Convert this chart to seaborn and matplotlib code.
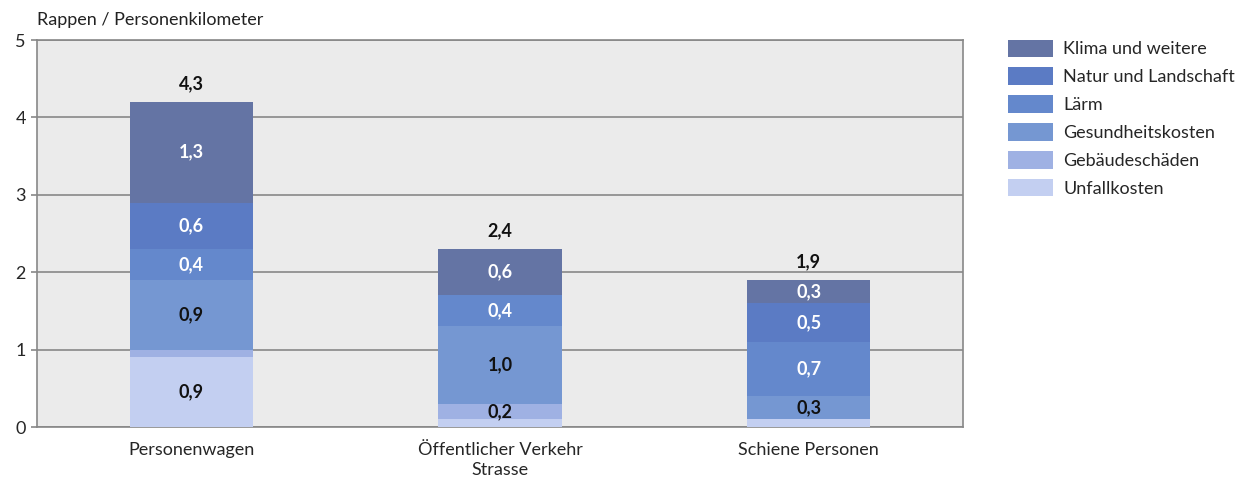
import numpy as np
import pandas as pd
import matplotlib
matplotlib.use("Agg")
import matplotlib.pyplot as plt
import seaborn as sns
from matplotlib.patches import Patch

# data (Rappen / Personenkilometer)
categories = ["Personenwagen", "Öffentlicher Verkehr\nStrasse", "Schiene Personen"]
components = ["Unfallkosten", "Gebäudeschäden", "Gesundheitskosten", "Lärm",
              "Natur und Landschaft", "Klima und weitere"]
unfall = [0.9, 0.1, 0.1]
gebaeude = [0.1, 0.2, 0.0]
gesundheit = [0.9, 1.0, 0.3]
laerm = [0.4, 0.4, 0.7]
natur = [0.6, 0.0, 0.5]
klima = [1.3, 0.6, 0.3]
total_labels = ["4,3", "2,4", "1,9"]

colors = ["#c3cff1", "#9fb1e3", "#7597d2", "#6488cc", "#5b7bc4", "#6474a4"]
text_colors = ["#111111", "#111111", "#111111", "white", "white", "white"]

df = pd.DataFrame({"Kategorie": categories, "Unfallkosten": unfall,
                   "Gebäudeschäden": gebaeude, "Gesundheitskosten": gesundheit,
                   "Lärm": laerm, "Natur und Landschaft": natur,
                   "Klima und weitere": klima})

sns.set_style("white", {"axes.facecolor": "#ebebeb"})
plt.rcParams["font.family"] = ["Lato", "DejaVu Sans"]

fig = plt.figure(figsize=(12.4, 4.82), dpi=100)
ax = fig.add_axes([0.0298, 0.1141, 0.7468, 0.8029])

cum = df[components].cumsum(axis=1)
# draw cumulative bars from top to bottom so lower ones overlay
for comp, col in reversed(list(zip(components, colors))):
    sns.barplot(x=df["Kategorie"], y=cum[comp], color=col, width=0.4,
                saturation=1, ax=ax, zorder=3, linewidth=0)

# segment labels
for i in range(len(categories)):
    base = 0.0
    for comp, tc in zip(components, text_colors):
        v = df.loc[i, comp]
        if v >= 0.2:
            ax.text(i, base + v / 2, f"{v:.1f}".replace(".", ","), ha="center",
                    va="center", color=tc, fontsize=13, fontweight="bold", zorder=5)
        base += v
    ax.text(i, base + 0.13, total_labels[i], ha="center", va="bottom",
            color="#111111", fontsize=13, fontweight="bold", zorder=5)

ax.set_xlim(-0.5, 2.5)
ax.set_ylim(0, 5)
ax.set_yticks(range(0, 6))
ax.yaxis.grid(True, color="#888888", linewidth=1.2, zorder=1)
ax.set_axisbelow(True)
for s in ax.spines.values():
    s.set_color("#888888")
    s.set_linewidth(1.2)
ax.tick_params(axis="y", length=4, width=1.2, color="#888888", labelsize=13,
               pad=4, left=True)
ax.tick_params(axis="x", length=0, labelsize=13, pad=11)
for lab in ax.get_xticklabels():
    lab.set_linespacing(1.25)
ax.set_xlabel("")
ax.set_ylabel("")
ax.text(0.0, 1.03, "Rappen / Personenkilometer", transform=ax.transAxes,
        ha="left", va="bottom", fontsize=13, color="#222222")

handles = [Patch(facecolor=c, edgecolor="none", label=l)
           for l, c in zip(components, colors)][::-1]
fig.legend(handles=handles, loc="upper left", bbox_to_anchor=(0.813, 0.918),
           frameon=False, fontsize=13, handlelength=2.5, handleheight=1.1,
           labelspacing=0.56, handletextpad=0.55, borderpad=0, borderaxespad=0)

fig.savefig("out.png", dpi=100)
